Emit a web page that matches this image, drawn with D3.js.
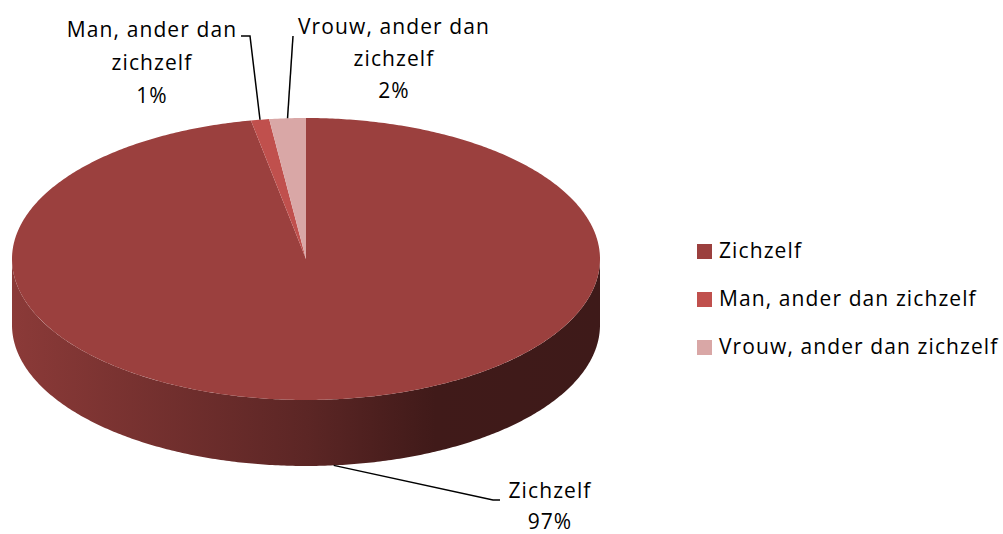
<!DOCTYPE html>
<html>
<head>
<meta charset="utf-8">
<script src="https://cdn.jsdelivr.net/npm/d3@7"></script>
<style>
  html, body { margin: 0; padding: 0; background: #fff; }
  svg text { font-family: "Open Sans", Lato, sans-serif; fill: #000; letter-spacing: 1.1px; }
</style>
</head>
<body>
<svg id="chart" width="1003" height="534"></svg>
<script>
// Data
const categories = ["Zichzelf", "Man, ander dan zichzelf", "Vrouw, ander dan zichzelf"];
const values = [97, 1, 2];
const labelLines = [["Zichzelf"], ["Man, ander dan", "zichzelf"], ["Vrouw, ander dan", "zichzelf"]];
const colors = ["#9b403e", "#c0504d", "#d9a7a6"];

const svg = d3.select("#chart");

// 3D pie geometry
const cx = 306, cy = 259, rx = 294, ry = 141, depth = 66;

const total = d3.sum(values);
const pie = d3.pie().sort(null).value(d => d)(values);

// point on the top ellipse for angle a (clockwise from 12 o'clock)
const pt = (a, dy = 0) => [cx + rx * Math.sin(a), cy - ry * Math.cos(a) + dy];
const arcPts = (a0, a1, dy = 0) => {
  const n = Math.max(2, Math.ceil(Math.abs(a1 - a0) / 0.01));
  return d3.range(n + 1).map(i => pt(a0 + (a1 - a0) * i / n, dy));
};
const line = d3.line();

// shaded gradient for the rim of each slice
const defs = svg.append("defs");
colors.forEach((c, i) => {
  const g = defs.append("linearGradient").attr("id", "side" + i)
    .attr("gradientUnits", "userSpaceOnUse")
    .attr("x1", cx - rx).attr("x2", cx + rx).attr("y1", 0).attr("y2", 0);
  [[0, 0.3], [0.5, 1.45], [0.72, 2.5], [1, 2.55]].forEach(([o, k]) =>
    g.append("stop").attr("offset", o).attr("stop-color", d3.rgb(c).darker(k)));
});

// side walls: only the front half (PI/2 .. 3PI/2) is visible
const sides = svg.append("g");
pie.forEach((s, i) => {
  const a0 = Math.max(s.startAngle, Math.PI / 2);
  const a1 = Math.min(s.endAngle, 3 * Math.PI / 2);
  if (a1 <= a0) return;
  const pts = arcPts(a0, a1).concat(arcPts(a1, a0, depth));
  sides.append("path").attr("d", line(pts) + "Z")
    .attr("fill", `url(#side${i})`);
});

// top faces
const tops = svg.append("g");
pie.forEach((s, i) => {
  const pts = [[cx, cy]].concat(arcPts(s.startAngle, s.endAngle));
  tops.append("path").attr("d", line(pts) + "Z")
    .attr("fill", colors[i]);
});

// data labels with leader lines
const fmt = v => Math.round(v / total * 100) + "%";
const labelLayout = [
  { x: 550, y: 498, dy: 31, leader: a => [pt(a, depth), [493, 500], [500, 500]] },
  { x: 152, y: 37, dy: 33, leader: a => [pt(a), [250, 36], [241, 36]] },
  { x: 394, y: 34, dy: 32, leader: a => [pt(a), [293, 36]] }
];
const labels = svg.append("g");
pie.forEach((s, i) => {
  const mid = (s.startAngle + s.endAngle) / 2;
  const L = labelLayout[i];
  labels.append("path").attr("d", line(L.leader(mid)))
    .attr("fill", "none").attr("stroke", "#000").attr("stroke-width", 1.5);
  const lines = labelLines[i].concat([fmt(values[i])]);
  const t = labels.append("text").attr("text-anchor", "middle").attr("font-size", 21);
  lines.forEach((ln, j) => {
    t.append("tspan").attr("x", L.x).attr("y", L.y + j * L.dy).text(ln);
  });
});

// legend
const legend = svg.append("g").attr("transform", "translate(697,244)");
categories.forEach((c, i) => {
  const g = legend.append("g").attr("transform", `translate(0,${i * 48})`);
  g.append("rect").attr("width", 15).attr("height", 15).attr("fill", colors[i]);
  g.append("text").attr("x", 22).attr("y", 14).attr("font-size", 21).text(c);
});
</script>
</body>
</html>
